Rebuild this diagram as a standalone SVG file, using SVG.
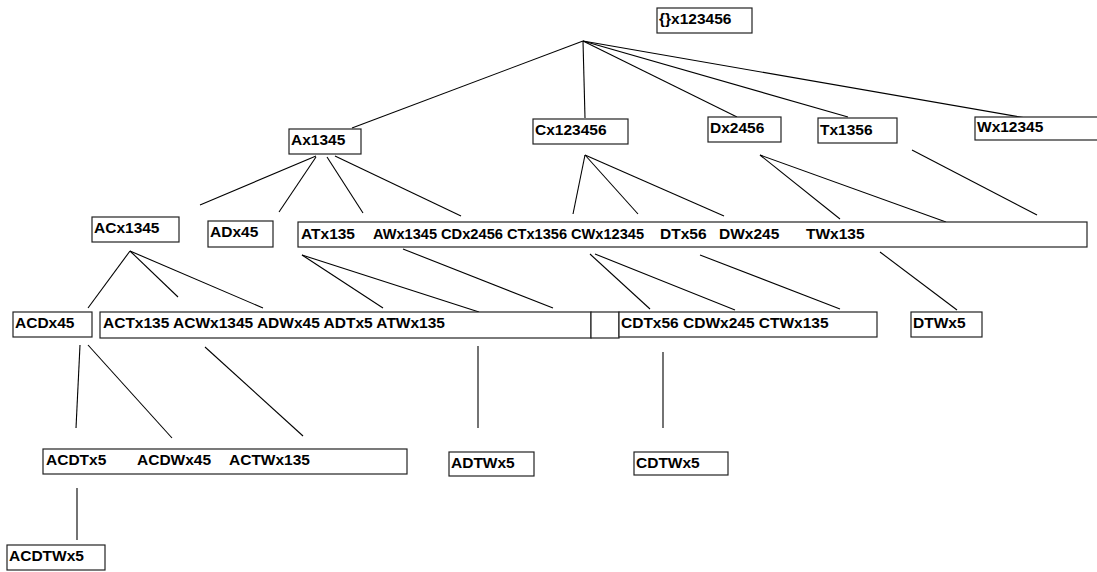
<svg xmlns="http://www.w3.org/2000/svg" width="1097" height="572" viewBox="0 0 1097 572">
<style>
.b{fill:#fff;stroke:#222;stroke-width:1.2}
.t{font-family:"Liberation Sans",Arial,sans-serif;font-weight:bold;font-size:15.5px;fill:#000}
.c line{stroke:#000;stroke-width:1.1}
</style>
<rect width="1097" height="572" fill="#fff"/>
<g class="c" id="connectors">
<line x1="583" y1="41" x2="352" y2="128"/>
<line x1="583" y1="41" x2="585" y2="118"/>
<line x1="583" y1="41" x2="737" y2="117"/>
<line x1="583" y1="41" x2="848" y2="117"/>
<line x1="583" y1="41" x2="1032" y2="119"/>
<line x1="316" y1="156" x2="200" y2="205"/>
<line x1="316" y1="157" x2="279" y2="212"/>
<line x1="327" y1="157" x2="363" y2="213"/>
<line x1="335" y1="156" x2="461" y2="216"/>
<line x1="585" y1="155" x2="573" y2="214"/>
<line x1="585" y1="155" x2="638" y2="214"/>
<line x1="585" y1="155" x2="724" y2="216"/>
<line x1="760" y1="155" x2="840" y2="219"/>
<line x1="760" y1="155" x2="946" y2="222"/>
<line x1="912" y1="150" x2="1037" y2="215"/>
<line x1="130" y1="251" x2="88" y2="308"/>
<line x1="130" y1="251" x2="178" y2="297"/>
<line x1="130" y1="251" x2="263" y2="308"/>
<line x1="302" y1="255" x2="383" y2="308"/>
<line x1="302" y1="255" x2="479" y2="312"/>
<line x1="403" y1="249" x2="553" y2="308"/>
<line x1="590" y1="254" x2="650" y2="309"/>
<line x1="595" y1="254" x2="735" y2="310"/>
<line x1="700" y1="255" x2="840" y2="309"/>
<line x1="880" y1="252" x2="957" y2="310"/>
<line x1="80" y1="345" x2="76" y2="428"/>
<line x1="88" y1="345" x2="172" y2="438"/>
<line x1="205" y1="347" x2="303" y2="436"/>
<line x1="478" y1="346" x2="478" y2="428"/>
<line x1="663" y1="352" x2="663" y2="428"/>
<line x1="77" y1="488" x2="77" y2="540"/>
</g>
<g id="root"><rect class="b" x="657" y="8" width="95" height="25"/><text class="t" x="659" y="24">{}x123456</text></g>
<g id="A"><rect class="b" x="289" y="129" width="72" height="25"/><text class="t" x="291" y="145">Ax1345</text></g>
<g id="C"><rect class="b" x="533" y="119" width="95" height="25"/><text class="t" x="535" y="135">Cx123456</text></g>
<g id="D"><rect class="b" x="708" y="117" width="73" height="25"/><text class="t" x="710" y="133">Dx2456</text></g>
<g id="T"><rect class="b" x="818" y="118" width="79" height="25"/><text class="t" x="820" y="135">Tx1356</text></g>
<g id="W"><rect class="b" x="975" y="117" width="130" height="23"/><text class="t" x="977" y="132">Wx12345</text></g>
<g id="AC"><rect class="b" x="92" y="217" width="87" height="25"/><text class="t" x="94" y="233">ACx1345</text></g>
<g id="AD"><rect class="b" x="208" y="221" width="65" height="26"/><text class="t" x="210" y="237">ADx45</text></g>
<g id="pairs"><rect class="b" x="298" y="222" width="789" height="25"/>
<text class="t" x="301" y="239">ATx135</text>
<text class="t" x="373" y="239" textLength="64" lengthAdjust="spacingAndGlyphs">AWx1345</text>
<text class="t" x="441" y="239" textLength="62" lengthAdjust="spacingAndGlyphs">CDx2456</text>
<text class="t" x="507" y="239" textLength="60" lengthAdjust="spacingAndGlyphs">CTx1356</text>
<text class="t" x="571" y="239" textLength="73" lengthAdjust="spacingAndGlyphs">CWx12345</text>
<text class="t" x="660" y="239">DTx56</text>
<text class="t" x="719" y="239">DWx245</text>
<text class="t" x="806" y="239">TWx135</text></g>
<g id="ACD"><rect class="b" x="13" y="312" width="79" height="25"/><text class="t" x="15" y="328">ACDx45</text></g>
<g id="triplesA"><rect class="b" x="100" y="312" width="491" height="26"/><text class="t" x="103" y="328">ACTx135 ACWx1345 ADWx45 ADTx5 ATWx135</text></g>
<g id="overlap"><rect class="b" x="591" y="312" width="28" height="26"/></g>
<g id="triplesC"><rect class="b" x="619" y="312" width="258" height="25"/><text class="t" x="621" y="328">CDTx56 CDWx245 CTWx135</text></g>
<g id="DTW"><rect class="b" x="911" y="312" width="71" height="25"/><text class="t" x="913" y="328">DTWx5</text></g>
<g id="quads"><rect class="b" x="43" y="449" width="364" height="25"/>
<text class="t" y="465"><tspan x="46">ACDTx5</tspan><tspan x="137">ACDWx45</tspan><tspan x="229">ACTWx135</tspan></text></g>
<g id="ADTW"><rect class="b" x="449" y="452" width="85" height="24"/><text class="t" x="451" y="468">ADTWx5</text></g>
<g id="CDTW"><rect class="b" x="634" y="452" width="94" height="23"/><text class="t" x="636" y="468">CDTWx5</text></g>
<g id="ACDTW"><rect class="b" x="7" y="545" width="98" height="25"/><text class="t" x="9" y="561">ACDTWx5</text></g>
</svg>
